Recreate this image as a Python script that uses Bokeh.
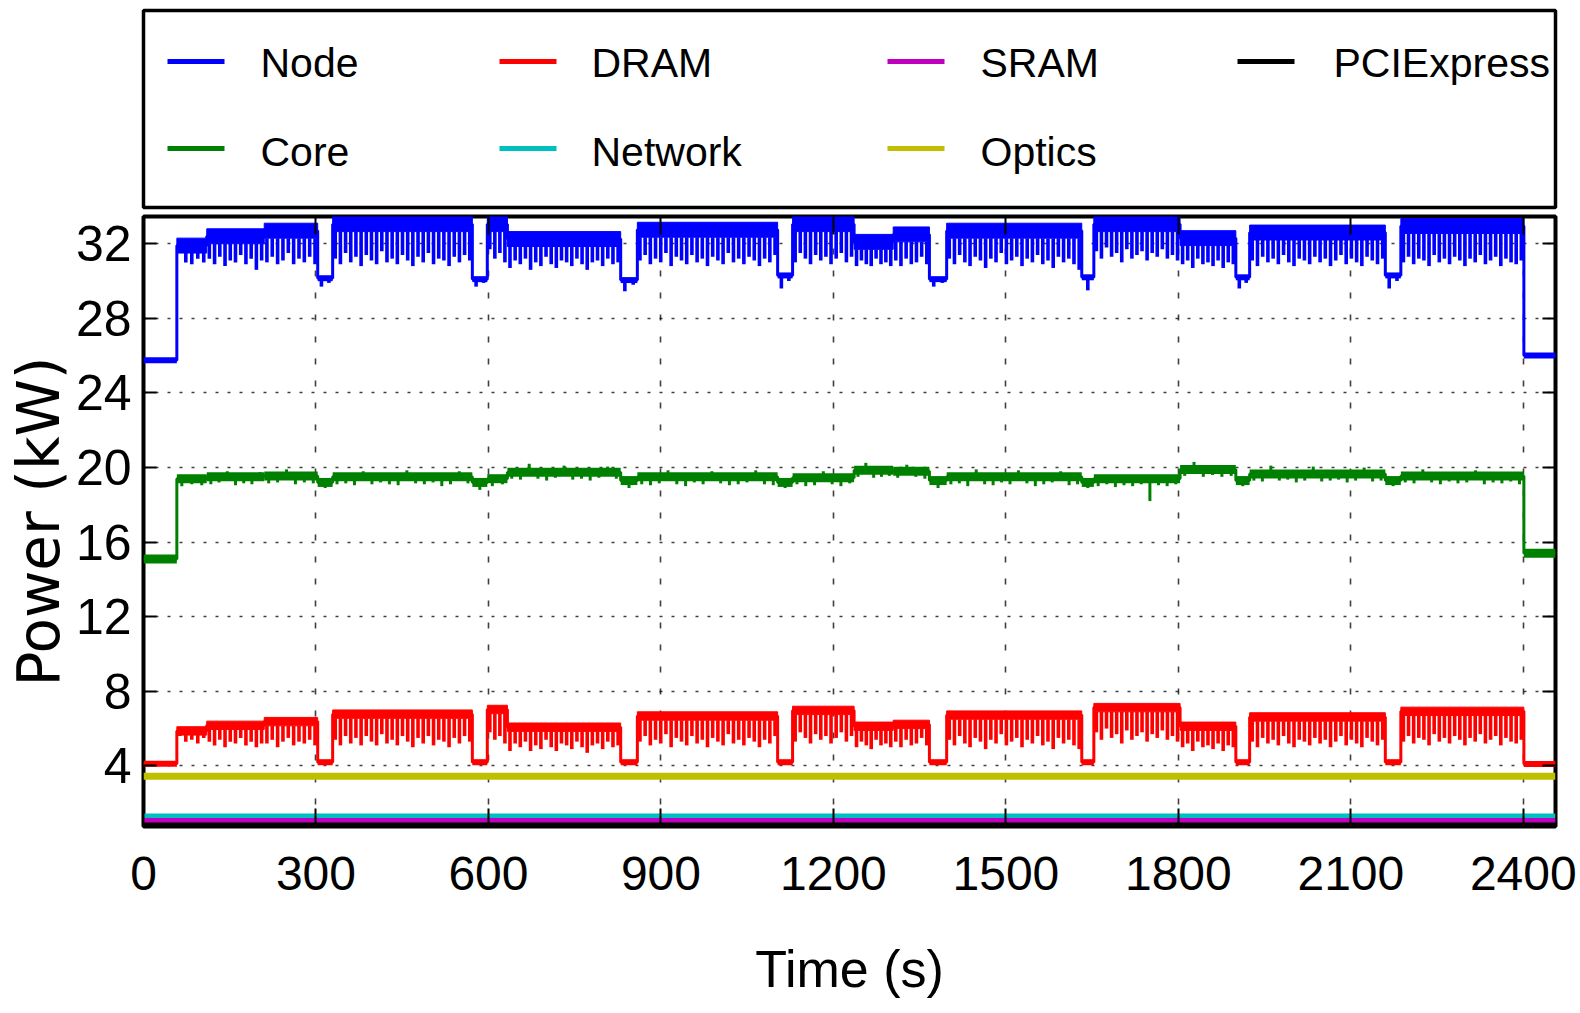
import numpy as np
from bokeh.plotting import figure
from bokeh.models import Range1d, LinearAxis, FixedTicker, ColumnDataSource, CustomLabelingPolicy
from bokeh.layouts import column
from bokeh.embed import file_html
from bokeh.resources import INLINE
from bokeh.core.properties import value

# ---------------- data ----------------
x_ticks = [0, 300, 600, 900, 1200, 1500, 1800, 2100, 2400]
y_ticks = [4, 8, 12, 16, 20, 24, 28, 32]
t_last = 2456

series_names = ["Node", "Core", "DRAM", "Network", "SRAM", "Optics", "PCIExpress"]
series_colors = ["#0000ff", "#008000", "#ff0000", "#00bfbf", "#bf00bf", "#bfbf00", "#000000"]

# phases of the run (s): idle, active sub-phases and short dips between iterations
seg_start = [0, 58, 110, 210, 303, 329, 572, 598, 633, 830, 859, 1103, 1129,
             1236, 1304, 1367, 1397, 1632, 1653, 1803, 1900, 1924, 2160, 2187, 2401]
seg_active = [0, 1, 1, 1, 0, 1, 0, 1, 1, 0, 1, 0, 1, 1, 1, 0, 1, 0, 1, 1, 0, 1, 0, 1, 0]

# Node power (kW): upper level of each phase, and low tips of the spikes in each phase
node_level = [25.75, 32.3, 32.8, 33.1, 30.15, 33.45, 30.1, 33.45, 32.65, 30.05, 33.15, 30.3, 33.45,
              32.5, 32.9, 30.1, 33.1, 30.2, 33.45, 32.7, 30.2, 33.0, 30.3, 33.35, 26.0]
node_spikes = [
    [],
    [31.6, 31.0, 30.9, 31.2, 31.0],
    [31.2, 30.9, 31.3, 30.8, 31.1, 31.0, 31.4, 30.9, 31.2, 30.6, 31.1],
    [31.0, 31.3, 30.9, 31.1, 31.5, 30.9, 31.2, 31.0, 31.3, 30.9],
    [29.7, 29.9],
    [31.2, 30.9, 31.5, 31.0, 31.3, 30.8, 31.4, 31.1, 30.9, 31.6, 31.0, 31.2, 30.9, 31.4, 31.1, 30.8,
     31.3, 31.0, 31.5, 30.9, 31.2, 31.1, 30.8, 31.3, 31.0, 31.4, 31.1],
    [29.7, 29.9],
    [31.7, 31.2, 31.5, 31.0],
    [30.7, 31.1, 30.9, 31.2, 30.6, 31.0, 30.8, 31.3, 30.9, 30.7, 31.1, 31.0, 30.8, 31.2, 30.9, 30.6,
     31.0, 31.1, 30.8, 31.2, 30.9, 31.0],
    [29.45, 29.8],
    [31.1, 31.4, 30.9, 31.2, 31.0, 31.5, 30.8, 31.3, 31.1, 30.9, 31.4, 31.0, 31.2, 30.8, 31.3, 31.1,
     30.9, 31.5, 31.0, 31.2, 30.9, 31.3, 31.1, 30.8, 31.2, 31.0, 31.4],
    [29.6, 30.0],
    [31.0, 31.5, 31.2, 30.9, 31.4, 31.1, 31.3, 30.9, 31.2, 31.5, 31.0, 31.3],
    [30.8, 31.1, 30.9, 30.8, 31.2, 30.9, 31.0, 30.8],
    [31.1, 30.8, 31.2, 30.9, 31.0, 31.3, 30.9],
    [29.7, 29.9],
    [31.2, 30.9, 31.4, 31.0, 30.8, 31.3, 31.1, 30.7, 31.2, 31.0, 31.5, 30.9, 31.1, 31.3, 30.8, 31.2,
     31.0, 31.4, 30.9, 31.1, 30.7, 31.3, 31.0, 31.2, 30.9, 30.6],
    [29.5],
    [31.6, 31.2, 31.8, 31.3, 31.5, 31.0, 31.7, 31.2, 31.4, 31.6, 31.1, 31.5, 31.3, 31.7, 31.2, 31.4, 31.1],
    [30.9, 31.1, 30.7, 31.2, 30.9, 31.0, 30.8, 31.1, 30.7, 31.0, 30.9],
    [29.6, 29.9],
    [31.1, 30.8, 31.3, 31.0, 31.2, 30.9, 31.4, 31.0, 30.8, 31.2, 31.1, 30.9, 31.3, 31.0, 31.2, 30.8,
     31.1, 31.4, 30.9, 31.2, 31.0, 30.8, 31.3, 31.1, 30.9, 31.2],
    [29.6, 30.0],
    [31.0, 31.3, 30.9, 31.2, 31.1, 30.8, 31.4, 31.0, 31.2, 30.9, 31.3, 31.1, 30.8, 31.2, 31.0, 31.4,
     30.9, 31.1, 31.3, 30.8, 31.2, 31.0, 30.9, 31.1],
    [],
]

# DRAM power (kW)
dram_level = [4.12, 6.1, 6.4, 6.6, 4.2, 7.0, 4.2, 7.25, 6.3, 4.2, 6.9, 4.2, 7.2,
              6.35, 6.45, 4.2, 6.95, 4.2, 7.35, 6.35, 4.2, 6.85, 4.2, 7.15, 4.1]
dram_spikes = [
    [],
    [5.6, 5.3, 5.4, 5.2, 5.5],
    [5.3, 5.1, 5.4, 5.0, 5.3, 5.2, 5.5, 5.1, 5.3, 5.0, 5.2],
    [5.2, 5.4, 5.0, 5.3, 5.5, 5.1, 5.3, 5.2, 5.4, 5.1],
    [],
    [5.4, 5.1, 5.6, 5.2, 5.5, 5.1, 5.6, 5.3, 5.1, 5.7, 5.2, 5.4, 5.1, 5.6, 5.3, 5.0, 5.5, 5.2, 5.6,
     5.1, 5.4, 5.3, 5.0, 5.5, 5.2, 5.6, 5.3],
    [],
    [5.8, 5.4, 5.6, 5.2],
    [4.8, 5.2, 5.0, 5.3, 4.8, 5.1, 4.9, 5.4, 5.0, 4.8, 5.2, 5.1, 4.9, 5.3, 5.0, 4.7, 5.1, 5.2, 4.9,
     5.3, 5.0, 5.1],
    [],
    [5.3, 5.6, 5.1, 5.4, 5.2, 5.7, 5.0, 5.5, 5.3, 5.1, 5.6, 5.2, 5.4, 5.0, 5.5, 5.3, 5.1, 5.7, 5.2,
     5.4, 5.1, 5.5, 5.3, 5.0, 5.4, 5.2, 5.6],
    [],
    [5.3, 5.8, 5.5, 5.2, 5.7, 5.4, 5.6, 5.2, 5.5, 5.8, 5.3, 5.6],
    [5.0, 5.3, 5.1, 4.9, 5.4, 5.1, 5.2, 5.0],
    [5.3, 5.0, 5.4, 5.1, 5.2, 5.5, 5.1],
    [],
    [5.4, 5.1, 5.6, 5.2, 5.0, 5.5, 5.3, 4.9, 5.4, 5.2, 5.7, 5.1, 5.3, 5.5, 5.0, 5.4, 5.2, 5.6, 5.1,
     5.3, 4.9, 5.5, 5.2, 5.4, 5.1, 4.9],
    [],
    [5.8, 5.4, 6.0, 5.5, 5.7, 5.2, 5.9, 5.4, 5.6, 5.8, 5.3, 5.7, 5.5, 5.9, 5.4, 5.6, 5.3],
    [5.0, 5.2, 4.8, 5.3, 5.0, 5.1, 4.9, 5.2, 4.8, 5.1, 5.0],
    [],
    [5.3, 5.0, 5.5, 5.2, 5.4, 5.1, 5.6, 5.2, 5.0, 5.4, 5.3, 5.1, 5.5, 5.2, 5.4, 5.0, 5.3, 5.6, 5.1,
     5.4, 5.2, 5.0, 5.5, 5.3, 5.1, 5.4],
    [],
    [5.3, 5.6, 5.2, 5.5, 5.4, 5.1, 5.7, 5.3, 5.5, 5.2, 5.6, 5.4, 5.1, 5.5, 5.3, 5.7, 5.2, 5.4, 5.6,
     5.1, 5.5, 5.3, 5.2, 5.4],
    [],
]

# Core power (kW)
core_level = [15.1, 19.4, 19.5, 19.55, 19.2, 19.5, 19.2, 19.4, 19.75, 19.3, 19.5, 19.2, 19.45,
              19.85, 19.8, 19.3, 19.5, 19.2, 19.4, 19.9, 19.3, 19.65, 19.3, 19.55, 15.4]
core_spikes = [
    [],
    [19.0, 19.1, 19.05],
    [19.1, 19.2, 19.8, 19.05, 19.15, 19.1, 19.75],
    [19.15, 19.2, 19.9, 19.1, 19.2, 19.15],
    [18.9],
    [19.1, 19.15, 19.05, 19.8, 19.1, 19.2, 19.1, 19.05, 19.85, 19.15, 19.1, 19.2, 19.0, 19.1, 19.8, 19.15],
    [18.8],
    [19.0, 19.1],
    [19.4, 19.35, 20.2, 19.4, 19.3, 19.45, 20.1, 19.35, 19.4, 19.3, 19.45, 20.05, 19.4],
    [18.9],
    [19.1, 19.05, 19.15, 19.85, 19.1, 19.0, 19.2, 19.1, 19.8, 19.15, 19.05, 19.1, 19.2, 19.85, 19.1, 19.05],
    [18.9],
    [19.1, 19.0, 19.05, 19.8, 19.1, 19.0, 19.15],
    [19.5, 20.25, 19.45, 19.5, 19.55],
    [19.45, 20.15, 19.5, 19.4],
    [18.9],
    [19.1, 19.15, 19.0, 19.9, 19.1, 19.05, 19.2, 19.1, 19.85, 19.15, 19.0, 19.1, 19.2, 19.8, 19.05, 19.1],
    [18.9],
    [19.0, 19.1, 18.95, 19.05, 19.0, 19.1, 18.2, 19.05, 19.0, 19.1],
    [19.55, 20.3, 19.5, 19.6, 19.5, 19.55],
    [19.0],
    [19.3, 19.25, 20.1, 19.3, 19.35, 19.2, 19.3, 20.05, 19.25, 19.3, 19.35, 19.2, 19.3, 20.0, 19.25, 19.3],
    [19.0],
    [19.2, 19.15, 19.9, 19.2, 19.1, 19.25, 19.15, 19.2, 19.85, 19.1, 19.2, 19.15, 19.25, 19.1],
    [],
]

# constant components (kW)
network_kw = 1.31
sram_kw = 1.07
optics_kw = 3.45
pcie_kw = 0.83

# ---------------- styling ----------------
FONT = "Liberation Sans"
WIDE = "DejaVu Sans"
W = 1580
LEFT, RIGHT = 143, 25

seg_end = seg_start[1:] + [t_last]


def series_parts(levels, band, spikes):
    skel_x, skel_y = [], []
    flat = dict(x0=[], x1=[], y=[])
    quad = dict(left=[], right=[], bottom=[], top=[])
    spk = dict(x=[], y0=[], y1=[])
    for s, e, lev, act, sp in zip(seg_start, seg_end, levels, seg_active, spikes):
        if act and band > 0:
            quad["left"].append(s); quad["right"].append(e)
            quad["bottom"].append(lev - band); quad["top"].append(lev)
            hi, lo, mid = lev, lev - band, lev - band / 2
        else:
            flat["x0"].append(s); flat["x1"].append(e); flat["y"].append(lev)
            hi = lo = mid = lev
        skel_x += [s, e]
        skel_y += [mid, mid]
        n = len(sp)
        for k, v in enumerate(sp):
            spk["x"].append(s + (k + 0.5) * (e - s) / n)
            spk["y0"].append(hi if v > hi else lo)
            spk["y1"].append(v)
    return skel_x, skel_y, flat, quad, spk


p = figure(width=W, height=801, x_range=Range1d(0, t_last), y_range=Range1d(0.75, 33.46),
           output_backend="svg", toolbar_location=None,
           min_border_left=LEFT, min_border_right=RIGHT, min_border_top=3, min_border_bottom=187)
p.background_fill_color = "white"
p.border_fill_color = "white"
p.outline_line_color = "black"
p.outline_line_width = 4


def draw(levels, band, spikes, color, flat_w, spike_w):
    sx, sy, flat, quad, spk = series_parts(levels, band, spikes)
    p.line(sx, sy, line_color=color, line_width=3)
    p.segment(x0="x0", y0="y", x1="x1", y1="y", source=ColumnDataSource(flat),
              line_color=color, line_width=flat_w)
    if quad["left"]:
        p.quad(source=ColumnDataSource(quad), fill_color=color, line_color=color, line_width=1)
    p.segment(x0="x", y0="y0", x1="x", y1="y1", source=ColumnDataSource(spk),
              line_color=color, line_width=spike_w)


draw(node_level, 0.8, node_spikes, series_colors[0], 6, 3.6)
draw(core_level, 0.0, core_spikes, series_colors[1], 9, 3.0)
draw(dram_level, 0.45, dram_spikes, series_colors[2], 6, 3.6)

for val, col, lw in [(network_kw, series_colors[3], 5), (sram_kw, series_colors[4], 5),
                     (optics_kw, series_colors[5], 7), (pcie_kw, series_colors[6], 5)]:
    p.line([0, t_last], [val, val], line_color=col, line_width=lw)

xt = FixedTicker(ticks=x_ticks)
yt = FixedTicker(ticks=y_ticks)
p.xaxis.ticker = xt
p.yaxis.ticker = yt
for ax in [p.xaxis[0], p.yaxis[0]]:
    ax.axis_line_color = None
    ax.major_tick_out = 0
    ax.minor_tick_out = 0
    ax.minor_tick_in = 0
    ax.major_tick_line_width = 2
    ax.major_tick_line_color = "black"
    ax.minor_tick_line_color = None
    ax.major_label_text_color = "black"
    ax.axis_label_text_color = "black"
    ax.axis_label_text_font_style = "normal"
p.xaxis.major_tick_in = 18
p.yaxis.major_tick_in = 13
p.xaxis.major_label_text_font = FONT
p.xaxis.major_label_text_font_size = "48px"
p.xaxis.major_label_standoff = 30
p.xaxis.axis_label = "Time (s)"
p.xaxis.axis_label_text_font = FONT
p.xaxis.axis_label_text_font_size = "52px"
p.xaxis.axis_label_standoff = 47
p.yaxis.major_label_text_font = FONT
p.yaxis.major_label_text_font_size = "50px"
p.yaxis.major_label_standoff = 12
p.yaxis.axis_label = "Power (kW)"
p.yaxis.axis_label_text_font = WIDE
p.yaxis.axis_label_text_font_size = "58px"
p.yaxis.axis_label_standoff = 0

no_labels = CustomLabelingPolicy(code="return []")
extra_axes = dict(major_label_text_font_size="1px", major_label_standoff=0,
                  major_label_policy=no_labels, major_tick_out=0, minor_tick_out=0, minor_tick_in=0,
                  major_tick_line_width=2, axis_line_color=None, minor_tick_line_color=None)
top_ax = LinearAxis(ticker=xt, major_tick_in=18, **extra_axes)
right_ax = LinearAxis(ticker=yt, major_tick_in=13, **extra_axes)
p.add_layout(top_ax, "above")
p.add_layout(right_ax, "right")

p.xgrid.ticker = xt
p.ygrid.ticker = yt
p.xgrid.grid_line_color = "black"
p.xgrid.grid_line_alpha = 0.75
p.xgrid.grid_line_width = 1.6
p.xgrid.grid_line_dash = "6 16"
p.ygrid.grid_line_color = "black"
p.ygrid.grid_line_alpha = 0.75
p.ygrid.grid_line_width = 1.6
p.ygrid.grid_line_dash = "3 9"

# ---------------- legend box (separate panel above the axes) ----------------
leg = figure(width=W, height=212, x_range=Range1d(143, 1555), y_range=Range1d(207, 10),
             output_backend="svg", toolbar_location=None, x_axis_location=None, y_axis_location=None,
             min_border_left=LEFT, min_border_right=RIGHT, min_border_top=10, min_border_bottom=5)
leg.grid.visible = False
leg.outline_line_color = "black"
leg.outline_line_width = 3.5
leg_line_x = [167, 499, 887, 1237]
leg_text_x = [260, 591, 980, 1333]
leg_line_y = [61, 148]
leg_text_y = [62, 151]
leg_line_len = 57
for i, (name, col) in enumerate(zip(series_names, series_colors)):
    c, r = i // 2, i % 2
    leg.line([leg_line_x[c], leg_line_x[c] + leg_line_len], [leg_line_y[r], leg_line_y[r]],
             line_color=col, line_width=5)
    leg.text(x=[leg_text_x[c]], y=[leg_text_y[r]], text=[name], text_font=value(FONT),
             text_font_size=value("41px"), text_baseline="middle", text_align="left",
             text_color="black")

layout = column(leg, p, spacing=0)
open("out.html", "w").write(file_html(layout, INLINE))
